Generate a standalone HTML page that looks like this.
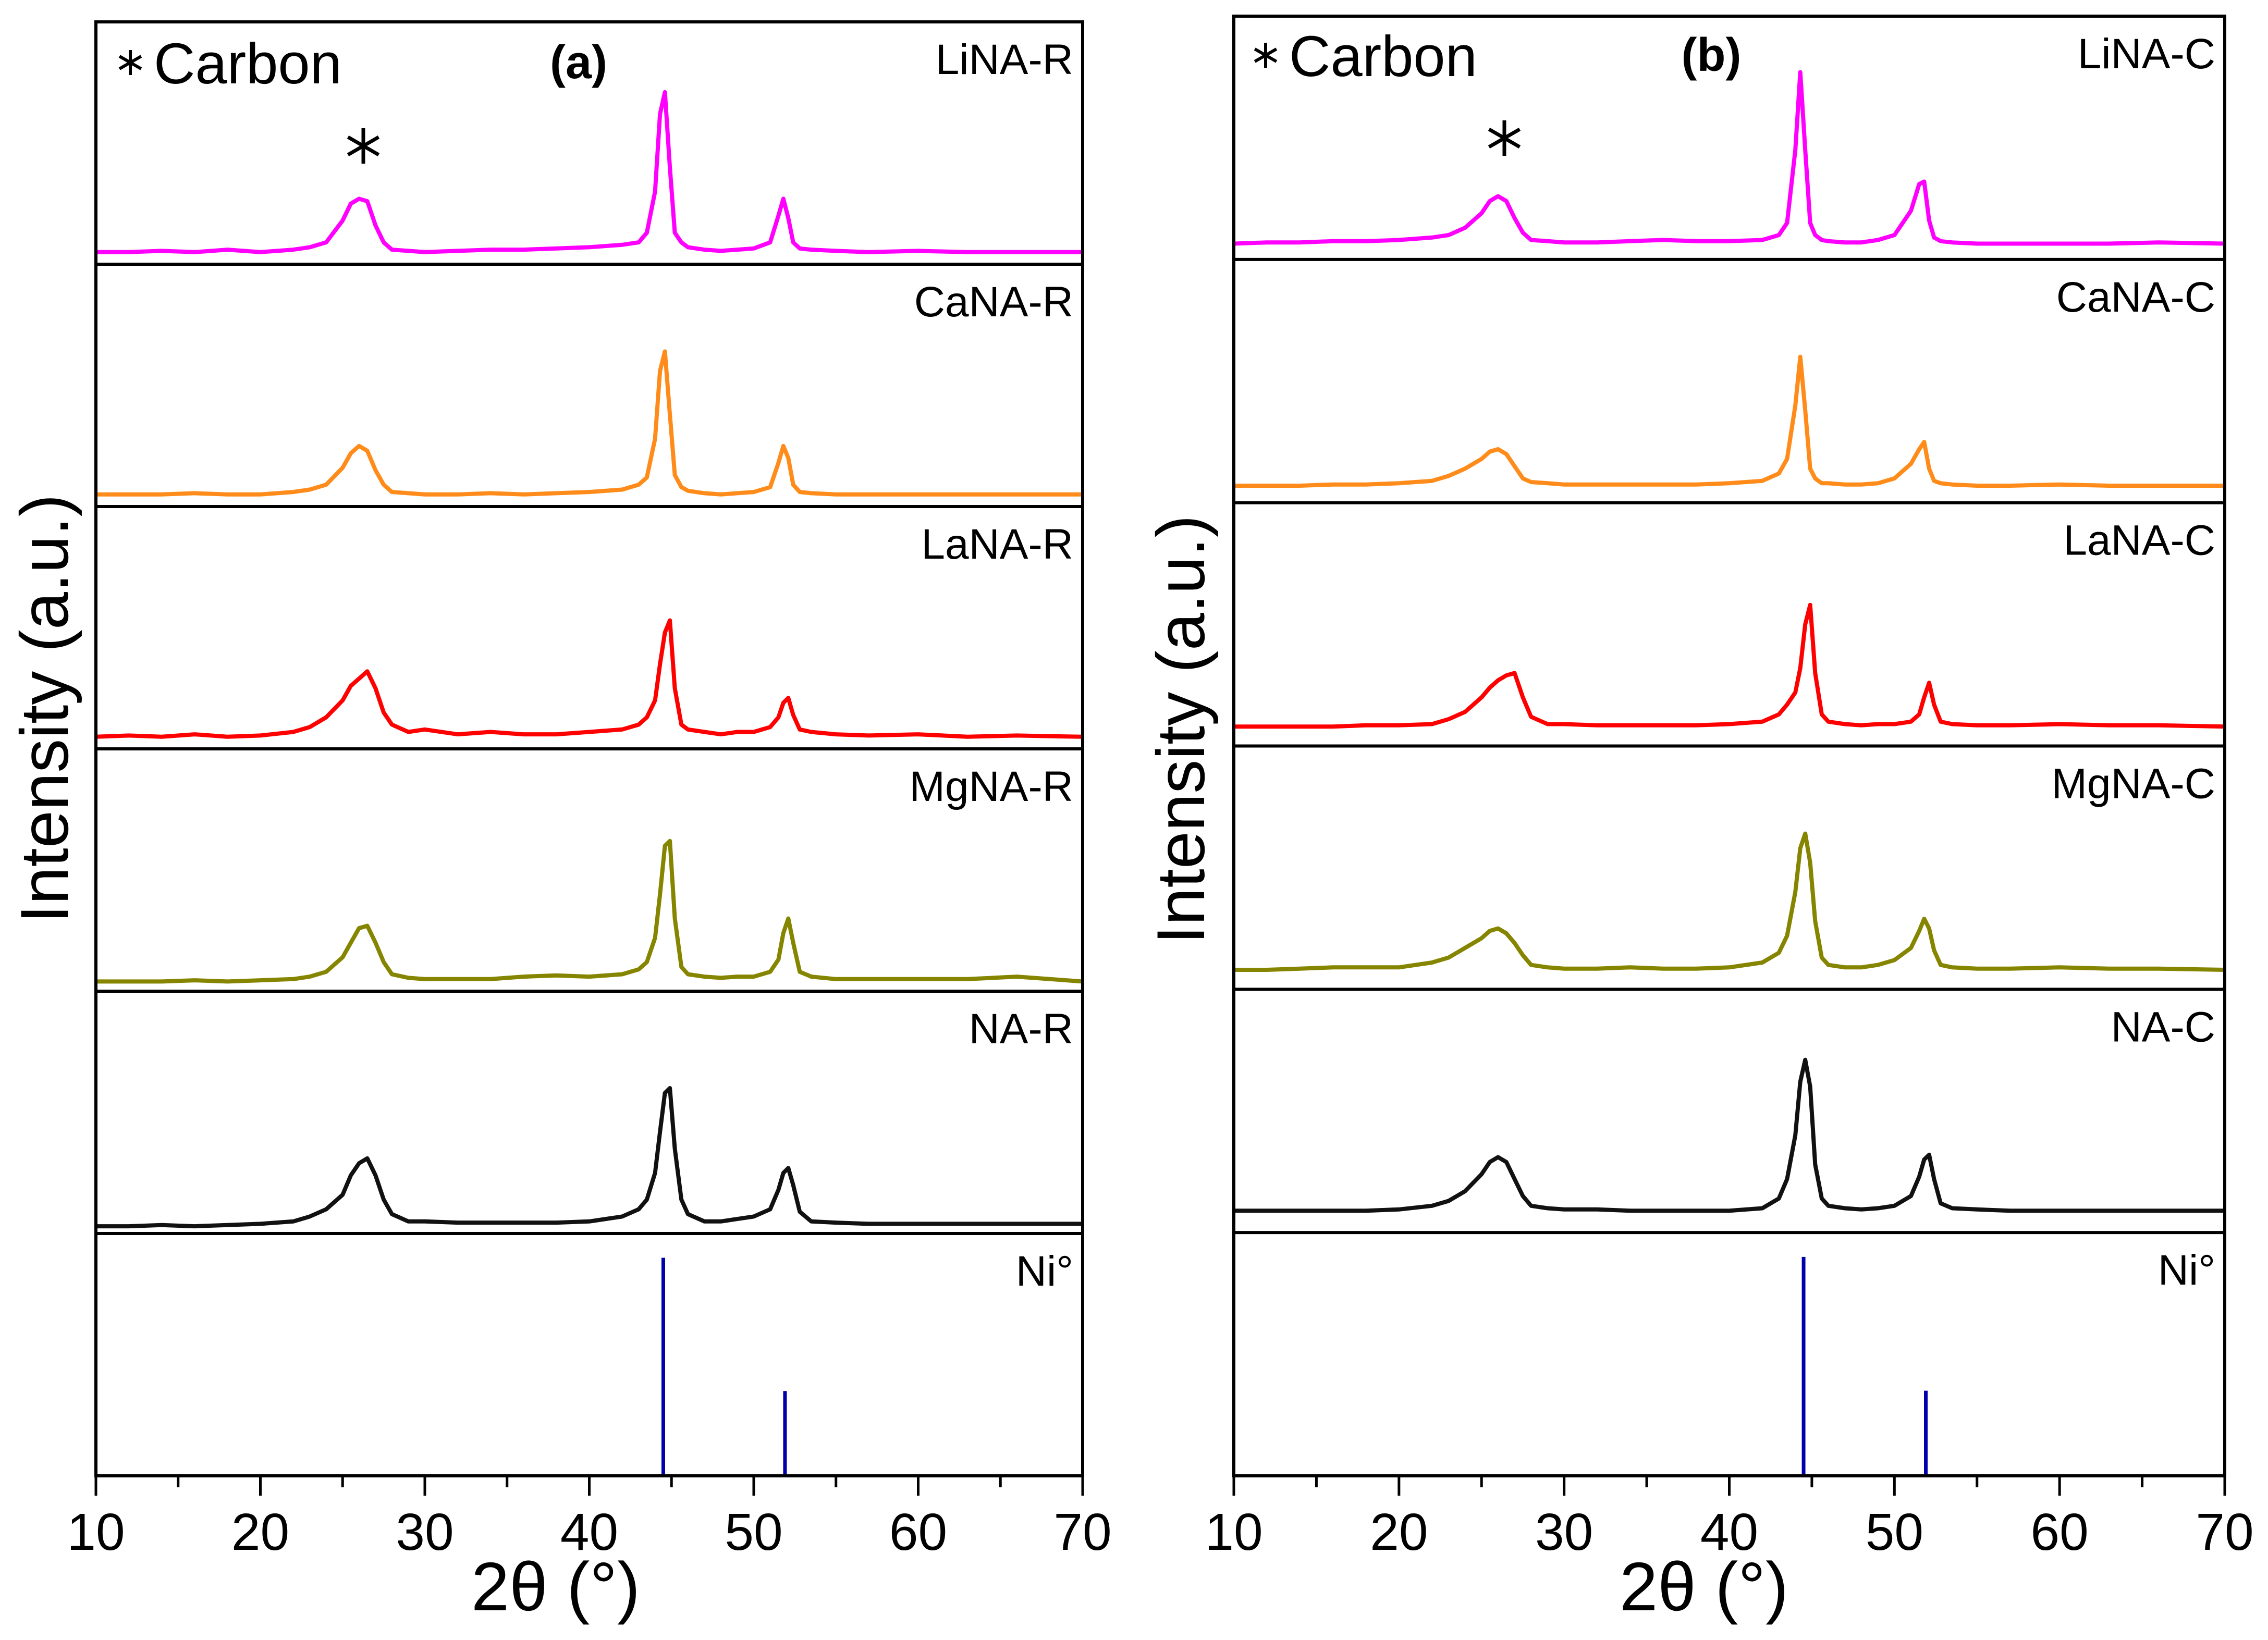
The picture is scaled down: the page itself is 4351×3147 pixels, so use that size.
<!DOCTYPE html>
<html><head><meta charset="utf-8"><style>
html,body{margin:0;padding:0;background:#fff}
svg{display:block}
text{font-family:"Liberation Sans",sans-serif}
</style></head><body>
<svg id="fig" width="4351" height="3147" viewBox="0 0 4351 3147" xmlns="http://www.w3.org/2000/svg"></svg>
<script>
const xs=[10,12,14,16,18,20,22,23,24,25,25.5,26,26.5,27,27.5,28,29,30,32,34,36,38,40,42,43,43.5,44,44.3,44.6,44.9,45.2,45.6,46,47,48,49,50,51,51.5,51.8,52.1,52.4,52.8,53.5,55,57,60,63,66,70];
const seriesNamesA=["LiNA-R","CaNA-R","LaNA-R","MgNA-R","NA-R"];
const seriesNamesB=["LiNA-C","CaNA-C","LaNA-C","MgNA-C","NA-C"];
const colors=["#ff00ff","#ff8c1a","#ff0000","#858500","#111111"];
const liNAR=[0.05,0.05,0.055,0.05,0.06,0.05,0.06,0.07,0.09,0.18,0.25,0.27,0.26,0.16,0.09,0.06,0.055,0.05,0.055,0.06,0.06,0.065,0.07,0.08,0.09,0.13,0.30,0.62,0.71,0.40,0.13,0.09,0.07,0.06,0.055,0.06,0.065,0.09,0.20,0.27,0.19,0.09,0.065,0.06,0.055,0.05,0.055,0.05,0.05,0.05];
const caNAR=[0.05,0.05,0.05,0.055,0.05,0.05,0.06,0.07,0.09,0.16,0.22,0.25,0.23,0.15,0.09,0.06,0.055,0.05,0.05,0.055,0.05,0.055,0.06,0.07,0.09,0.12,0.28,0.56,0.64,0.38,0.13,0.08,0.065,0.055,0.05,0.055,0.06,0.08,0.18,0.25,0.20,0.09,0.06,0.055,0.05,0.05,0.05,0.05,0.05,0.05];
const laNAR=[0.05,0.055,0.05,0.06,0.05,0.055,0.07,0.09,0.13,0.20,0.26,0.29,0.32,0.25,0.15,0.10,0.07,0.08,0.06,0.07,0.06,0.06,0.07,0.08,0.10,0.13,0.20,0.35,0.48,0.53,0.25,0.10,0.08,0.07,0.06,0.07,0.07,0.09,0.13,0.19,0.21,0.14,0.08,0.07,0.06,0.055,0.06,0.05,0.055,0.05];
const mgNAR=[0.04,0.04,0.04,0.045,0.04,0.045,0.05,0.06,0.08,0.14,0.20,0.26,0.27,0.20,0.12,0.07,0.055,0.05,0.05,0.05,0.06,0.065,0.06,0.07,0.09,0.12,0.22,0.40,0.60,0.62,0.30,0.10,0.07,0.06,0.055,0.06,0.06,0.08,0.13,0.24,0.30,0.20,0.08,0.06,0.05,0.05,0.05,0.05,0.06,0.04];
const nAR=[0.03,0.03,0.035,0.03,0.035,0.04,0.05,0.07,0.10,0.16,0.24,0.29,0.31,0.24,0.14,0.08,0.05,0.05,0.045,0.045,0.045,0.045,0.05,0.07,0.10,0.14,0.25,0.42,0.58,0.60,0.35,0.14,0.08,0.05,0.05,0.06,0.07,0.10,0.18,0.25,0.27,0.20,0.09,0.05,0.045,0.04,0.04,0.04,0.04,0.04];
const liNAC=[0.065,0.07,0.07,0.075,0.075,0.08,0.09,0.10,0.13,0.19,0.24,0.26,0.24,0.17,0.11,0.08,0.075,0.07,0.07,0.075,0.08,0.075,0.075,0.08,0.10,0.15,0.45,0.77,0.45,0.15,0.10,0.08,0.075,0.07,0.07,0.08,0.10,0.20,0.31,0.32,0.16,0.09,0.075,0.07,0.065,0.065,0.065,0.065,0.07,0.065];
const caNAC=[0.07,0.07,0.07,0.075,0.075,0.08,0.09,0.11,0.14,0.18,0.21,0.22,0.20,0.15,0.10,0.085,0.08,0.075,0.075,0.075,0.075,0.075,0.08,0.09,0.12,0.18,0.40,0.60,0.38,0.14,0.10,0.08,0.08,0.075,0.075,0.08,0.10,0.16,0.22,0.25,0.14,0.09,0.08,0.075,0.07,0.07,0.075,0.07,0.07,0.07];
const laNAC=[0.08,0.08,0.08,0.08,0.085,0.085,0.09,0.11,0.14,0.20,0.24,0.27,0.29,0.30,0.20,0.12,0.09,0.09,0.085,0.085,0.085,0.085,0.09,0.10,0.13,0.17,0.22,0.32,0.50,0.58,0.30,0.13,0.10,0.09,0.085,0.09,0.09,0.10,0.13,0.20,0.26,0.17,0.10,0.09,0.085,0.085,0.09,0.085,0.085,0.08];
const mgNAC=[0.08,0.08,0.085,0.09,0.09,0.09,0.11,0.13,0.17,0.21,0.24,0.25,0.23,0.19,0.14,0.10,0.09,0.085,0.085,0.09,0.085,0.085,0.09,0.11,0.15,0.22,0.40,0.58,0.64,0.52,0.28,0.13,0.10,0.09,0.09,0.10,0.12,0.17,0.24,0.29,0.25,0.16,0.10,0.09,0.085,0.085,0.09,0.085,0.085,0.08];
const nAC=[0.09,0.09,0.09,0.09,0.09,0.095,0.11,0.13,0.17,0.24,0.29,0.31,0.29,0.22,0.15,0.11,0.10,0.095,0.095,0.09,0.09,0.09,0.09,0.10,0.14,0.22,0.40,0.62,0.71,0.60,0.28,0.14,0.11,0.10,0.095,0.10,0.11,0.15,0.23,0.30,0.32,0.22,0.12,0.10,0.095,0.09,0.09,0.09,0.09,0.09];
const niPos=[44.5,51.9];
const niInt=[0.9,0.35];
const xTicks=[10,20,30,40,50,60,70];
const xTickLabels=["10","20","30","40","50","60","70"];

const NS="http://www.w3.org/2000/svg";
const svg=document.getElementById('fig');
function mk(tag,attrs,parent){const e=document.createElementNS(NS,tag);for(const k in attrs)e.setAttribute(k,attrs[k]);(parent||svg).appendChild(e);return e;}

function panel(p){
  const g=mk('g',{});
  
  
  const L=p.left,R=p.right,T=p.top,B=p.bottom;
  const H=(B-T)/6;
  const xScale=v=>L+(v-10)/60*(R-L);
  p.series.forEach((ys,i)=>{
    const top=T+i*H, bot=top+H;
    const yScale=v=>bot-v*H;
    let d='';
    xs.forEach((x,j)=>{d+=(j?'L':'M')+xScale(x).toFixed(1)+' '+yScale(ys[j]).toFixed(1);});
    const path=mk('path',{d:d,fill:'none',stroke:colors[i],'stroke-width':8,'stroke-linejoin':'round'},g);
    
    
    const t=mk('text',{x:R-18,y:top+100,'font-size':82,'text-anchor':'end',fill:'#000'},g);
    t.textContent=p.labels[i];
    
    
  });
  const nTop=T+5*H, nBot=B;
  niPos.forEach((x,k)=>{
    const l=mk('line',{x1:xScale(x),x2:xScale(x),y1:nBot,y2:nBot-niInt[k]*H,stroke:'#0000aa','stroke-width':7},g);
    
    
  });
  const nt=mk('text',{x:R-18,y:nTop+100,'font-size':82,'text-anchor':'end'},g);
  nt.textContent='Ni°';
  
  
  for(let i=1;i<6;i++){
    const l=mk('line',{x1:L,x2:R,y1:T+i*H,y2:T+i*H,stroke:'#000','stroke-width':6},g);
    
    
  }
  const fr=mk('rect',{x:L,y:T,width:R-L,height:B-T,fill:'none',stroke:'#000','stroke-width':6},g);
  
  
  for(let v=10;v<=70;v+=5){
    const major=v%10===0;
    const tk=mk('line',{x1:xScale(v),x2:xScale(v),y1:B,y2:B+(major?38:22),stroke:'#000','stroke-width':5},g);
    
    
  }
  xTicks.forEach((v,k)=>{
    const t=mk('text',{x:xScale(v),y:2974,'font-size':100,'text-anchor':'middle'},g);
    t.textContent=xTickLabels[k];
    
    
  });
  const xt=mk('text',{x:p.xTitleX,y:3090,'font-size':132,'text-anchor':'middle'},g);
  xt.textContent='2θ (°)';
  
  
  const yt=mk('text',{x:0,y:0,'font-size':130,'text-anchor':'middle',transform:'translate('+p.yTitleX+','+p.yTitleY+') rotate(-90)'},g);
  yt.textContent='Intensity (a.u.)';
  
  
  star(g,p.legStarX,p.legStarY,24,6);
  const lt=mk('text',{x:p.legStarX+45,y:p.legStarY+40,'font-size':110},g);
  lt.textContent='Carbon';
  
  
  const pl=mk('text',{x:p.plX,y:p.legStarY+30,'font-size':90,'font-weight':'bold','text-anchor':'middle'},g);
  pl.textContent=p.panelLabel;
  
  
  star(g,p.starX,p.starY,34,7);
}
function star(g,cx,cy,r,w){
  const s=mk('g',{stroke:'#000','stroke-width':w},g);
  
  
  [90,30,150].forEach(a=>{const rad=a*Math.PI/180;mk('line',{x1:cx-r*Math.cos(rad),y1:cy-r*Math.sin(rad),x2:cx+r*Math.cos(rad),y2:cy+r*Math.sin(rad)},s);});
}
panel({name:'panel-a',left:184,right:2077,top:42,bottom:2832,series:[liNAR,caNAR,laNAR,mgNAR,nAR],labels:seriesNamesA,
  xTitleX:1066,yTitleX:130,yTitleY:1360,legStarX:250,legStarY:120,plX:1110,panelLabel:'(a)',starX:697,starY:280});
panel({name:'panel-b',left:2367,right:4268,top:31,bottom:2832,series:[liNAC,caNAC,laNAC,mgNAC,nAC],labels:seriesNamesB,
  xTitleX:3269,yTitleX:2310,yTitleY:1400,legStarX:2428,legStarY:106,plX:3283,panelLabel:'(b)',starX:2886,starY:265});
</script>
</body></html>
